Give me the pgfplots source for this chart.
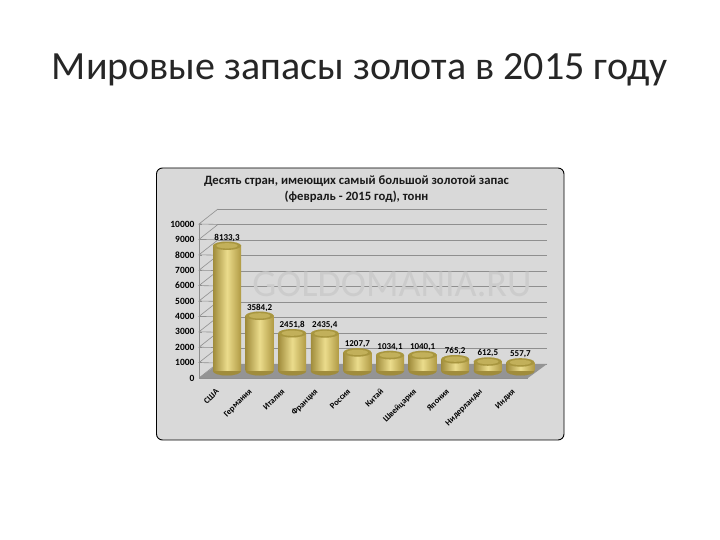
\documentclass[border=0pt]{standalone}
\usepackage{pgfplots}
\usepackage{pgfplotstable}
\pgfplotsset{compat=1.18}
\usepackage{fontspec}
\setmainfont{Carlito}
\definecolor{panel}{HTML}{D9D9D9}
\definecolor{gridc}{HTML}{8F8F8F}
\definecolor{goldD}{HTML}{A08C3C}
\definecolor{goldM}{HTML}{EBDC8C}
\definecolor{goldR}{HTML}{B09A44}
\definecolor{goldT}{HTML}{A8963F}
\definecolor{goldL}{HTML}{C2B05A}
\pgfplotstableread{
x v z
0 8133.3 0
1 3584.2 0
2 2451.8 0
3 2435.4 0
4 1207.7 0
5 1034.1 0
6 1040.1 0
7 765.2 0
8 612.5 0
9 557.7 0
}\goldtable
\pgfplotsset{cyl/.style={at={(210.7pt,169pt)},anchor=south west,scale only axis,width=326pt,height=154pt,
  xmin=-0.5,xmax=9.5,ymin=0,ymax=10000,clip=false,axis lines=none,xtick=\empty,ytick=\empty},
  goldbar/.style={ybar,bar width=28pt,bar shift=0pt,draw=none,left color=goldD,right color=goldR,middle color=goldM}}
\begin{document}
\begin{tikzpicture}[x=1pt,y=1pt]
\useasboundingbox (0,0) rectangle (720,540);
\fill[white] (0,0) rectangle (720,540);
\node[text=black!85,font=\fontsize{40}{44}\selectfont] at (359.5,470) {Мировые запасы золота в 2015 году};
\draw[black,line width=0.9pt,fill=panel,rounded corners=6pt] (156.5,100) rectangle (564,372);
\node[font=\bfseries\fontsize{12.7}{14}\selectfont,align=center,text=black!90] at (356.5,351) {Десять стран, имеющих самый большой золотой запас\\[2pt](февраль - 2015 год), тонн};
% back wall
\begin{axis}[at={(218pt,176pt)},anchor=south west,scale only axis,width=329pt,height=155pt,
  xmin=0,xmax=1,ymin=0,ymax=10000,xtick=\empty,ytick=\empty,
  axis lines=none,clip=false]
\pgfplotsinvokeforeach{0,1000,2000,3000,4000,5000,6000,7000,8000,9000,10000}{
  \addplot[gridc,line width=0.7pt] coordinates {(0,#1) (1,#1)};
}
\end{axis}
\node[text=black!20,font=\fontsize{38}{40}\selectfont] at (392,255.5) {GOLDOMANIA.RU};
% front frame
\begin{axis}[at={(199pt,162pt)},anchor=south west,scale only axis,width=329pt,height=154pt,
  xmin=-0.5,xmax=9.5,ymin=0,ymax=10000,clip=false,
  axis x line*=bottom,axis y line*=left,axis line style={gridc,-},
  ytick distance=1000,scaled y ticks=false,
  y tick label style={font=\bfseries\fontsize{9.5}{9.5}\selectfont,/pgf/number format/assume math mode=true,/pgf/number format/1000 sep={},/pgf/number format/fixed},
  yticklabel style={xshift=-1pt},
  ytick style={gridc},major tick length=3pt,
  xtick={0,...,9},x tick style={draw=none},
  xticklabels={США,Германия,Италия,Франция,Россия,Китай,Швейцария,Япония,Нидерланды,Индия},
  x tick label style={rotate=45,anchor=north east,font=\bfseries\fontsize{8.5}{9}\selectfont,inner sep=1pt,yshift=-6pt,xshift=-6pt},
]
\addplot[fill=black!42,draw=none] coordinates {(-0.5,0) (0.0775,909) (10.08,909) (9.5,0)} -- cycle;
\addplot[gridc,line width=0.6pt] coordinates {
 (-0.5,0)(0.0775,974)(nan,nan)
 (-0.5,1000)(0.0775,1974)(nan,nan)
 (-0.5,2000)(0.0775,2974)(nan,nan)
 (-0.5,3000)(0.0775,3974)(nan,nan)
 (-0.5,4000)(0.0775,4974)(nan,nan)
 (-0.5,5000)(0.0775,5974)(nan,nan)
 (-0.5,6000)(0.0775,6974)(nan,nan)
 (-0.5,7000)(0.0775,7974)(nan,nan)
 (-0.5,8000)(0.0775,8974)(nan,nan)
 (-0.5,9000)(0.0775,9974)(nan,nan)
 (-0.5,10000)(0.0775,10974)};
\end{axis}
% cylinder bases
\begin{axis}[cyl]
\addplot[only marks,mark=*,mark size=1pt,mark options={xscale=14,yscale=4.5,draw=goldD,line width=0.02pt,fill=goldD}] table[x=x,y=z] {\goldtable};
\end{axis}
% cylinder bodies: one plot per bar so each has its own gradient
\begin{axis}[cyl]
\addplot[goldbar] coordinates {(0,8133.3)};
\addplot[goldbar] coordinates {(1,3584.2)};
\addplot[goldbar] coordinates {(2,2451.8)};
\addplot[goldbar] coordinates {(3,2435.4)};
\addplot[goldbar] coordinates {(4,1207.7)};
\addplot[goldbar] coordinates {(5,1034.1)};
\addplot[goldbar] coordinates {(6,1040.1)};
\addplot[goldbar] coordinates {(7,765.2)};
\addplot[goldbar] coordinates {(8,612.5)};
\addplot[goldbar] coordinates {(9,557.7)};
\end{axis}
% cylinder tops
\begin{axis}[cyl]
\addplot[only marks,mark=*,mark size=1pt,mark options={xscale=14,yscale=4.2,draw=goldT,line width=0.02pt,fill=goldT},
  nodes near coords,point meta=y,
  every node near coord/.style={anchor=south,font=\bfseries\fontsize{9}{10}\selectfont,text=black,inner sep=0pt,yshift=4.5pt,
   /pgf/number format/assume math mode=true,/pgf/number format/use comma,/pgf/number format/fixed,/pgf/number format/fixed zerofill,/pgf/number format/precision=1,/pgf/number format/1000 sep={}}
  ] table[x=x,y=v] {\goldtable};
\addplot[only marks,mark=*,mark size=1pt,mark options={xscale=10.5,yscale=2.6,draw=goldL,line width=0.02pt,fill=goldL}] table[x=x,y=v] {\goldtable};
\end{axis}
\end{tikzpicture}
\end{document}
